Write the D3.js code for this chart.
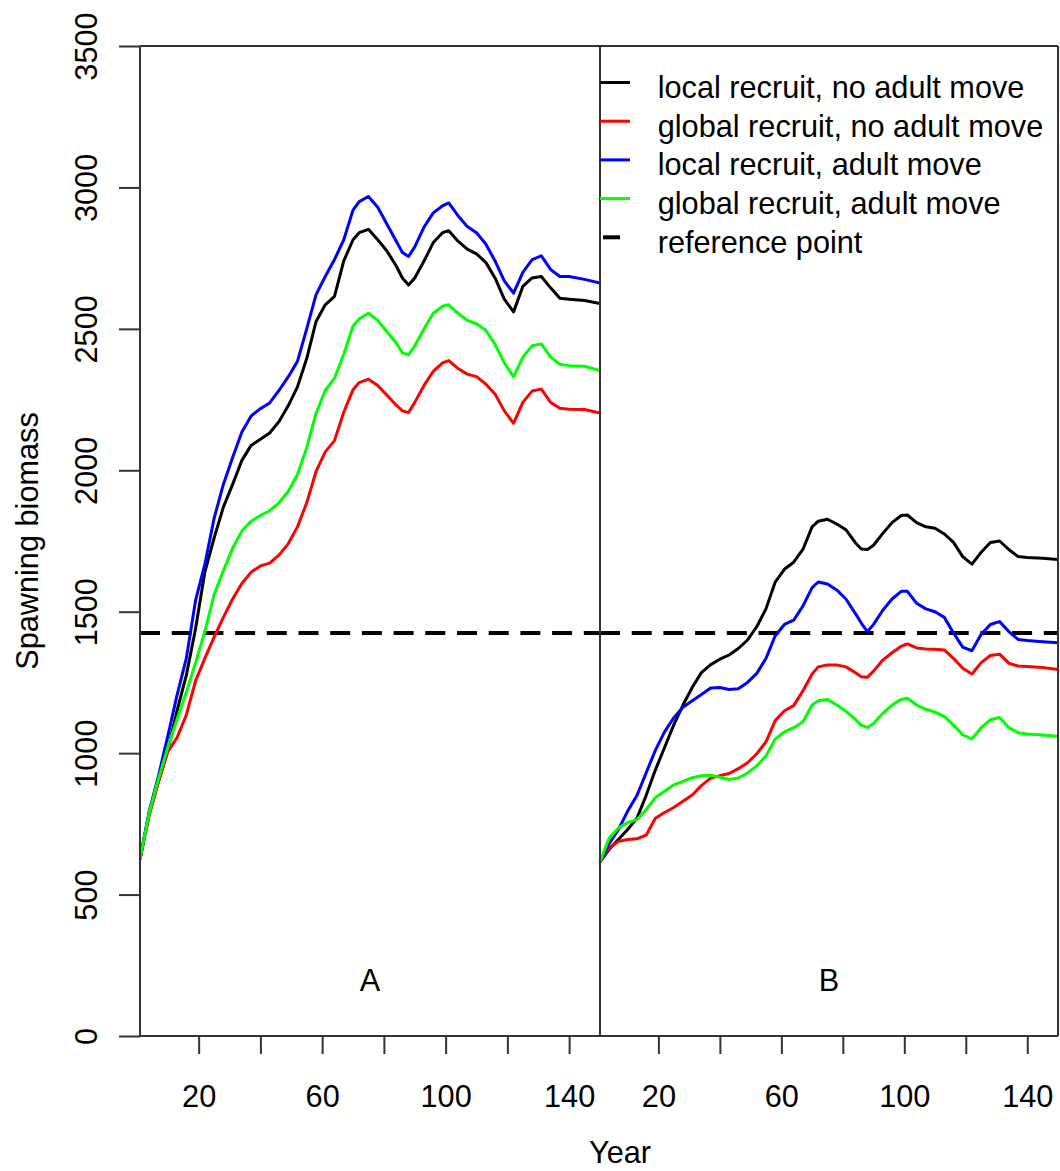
<!DOCTYPE html>
<html>
<head>
<meta charset="utf-8">
<script src="https://cdn.jsdelivr.net/npm/d3@7"></script>
<style>
  body { margin: 0; background: #fff; }
  text { font-family: "Liberation Sans", Arial, sans-serif; fill: #000; }
</style>
</head>
<body>
<svg class="svg" width="1060" height="1171"></svg>
<script>
// years (same grid for every series)
const years = [1, 4, 7, 10, 13, 16, 19, 22, 25, 28,
  31, 34, 37, 40, 43, 46, 49, 52, 55, 58,
  61, 64, 67, 70, 72, 75, 78, 81, 84, 86,
  88, 90, 93, 96, 99, 101, 104, 107, 110, 113,
  116, 119, 122, 125, 128, 131, 134, 137, 140, 145,
  150];

// panel A
const aLocalNoMove = [625, 790, 900, 1010, 1150, 1275, 1440, 1640, 1760, 1870,
  1950, 2035, 2088, 2110, 2132, 2172, 2228, 2295, 2395, 2525,
  2585, 2615, 2740, 2815, 2840, 2852, 2815, 2775, 2722, 2680,
  2655, 2680, 2740, 2805, 2840, 2847, 2810, 2782, 2765, 2735,
  2680, 2605, 2560, 2650, 2680, 2685, 2645, 2608, 2605, 2600,
  2590];
const aGlobalNoMove = [625, 780, 900, 1005, 1055, 1135, 1255, 1335, 1410, 1480,
  1545, 1600, 1640, 1662, 1672, 1700, 1740, 1800, 1885, 1995,
  2065, 2105, 2205, 2285, 2310, 2322, 2300, 2265, 2230, 2210,
  2204, 2240, 2300, 2350, 2380, 2388, 2360, 2340, 2331, 2305,
  2270, 2210, 2166, 2240, 2280, 2287, 2240, 2219, 2216, 2215,
  2202];
const aLocalMove = [625, 795, 920, 1060, 1205, 1335, 1540, 1667, 1830, 1950,
  2045, 2135, 2192, 2218, 2238, 2282, 2330, 2385, 2500, 2620,
  2685, 2745, 2815, 2920, 2950, 2968, 2930, 2870, 2810, 2770,
  2756, 2790, 2860, 2910, 2935, 2945, 2900, 2862, 2840, 2800,
  2740, 2670, 2626, 2700, 2745, 2758, 2710, 2685, 2685, 2675,
  2662];
const aGlobalMove = [625, 790, 910, 1020, 1120, 1215, 1320, 1430, 1560, 1645,
  1725, 1785, 1820, 1840, 1857, 1885, 1925, 1985, 2080, 2200,
  2283, 2325, 2410, 2510, 2535, 2555, 2530, 2490, 2450, 2415,
  2408, 2440, 2500, 2555, 2580, 2585, 2555, 2530, 2518, 2495,
  2445, 2380, 2330, 2400, 2440, 2447, 2400, 2375, 2370, 2368,
  2353];

// panel B
const bLocalNoMove = [616, 660, 695, 730, 770, 850, 940, 1020, 1100, 1170,
  1232, 1285, 1313, 1332, 1347, 1370, 1400, 1447, 1510, 1605,
  1650, 1675, 1720, 1800, 1820, 1827, 1810, 1790, 1745, 1722,
  1720, 1735, 1777, 1815, 1840, 1842, 1815, 1800, 1795, 1775,
  1745, 1695, 1668, 1710, 1745, 1750, 1720, 1695, 1692, 1689,
  1685];
const bGlobalNoMove = [616, 665, 688, 695, 697, 710, 770, 790, 808, 830,
  852, 885, 912, 920, 928, 945, 966, 998, 1040, 1115,
  1150, 1168, 1220, 1280, 1305, 1312, 1312, 1305, 1285, 1270,
  1268, 1290, 1329, 1355, 1378, 1386, 1372, 1368, 1367, 1365,
  1335, 1300, 1280, 1320, 1345, 1350, 1318, 1308, 1306, 1303,
  1296];
const bLocalMove = [616, 680, 730, 795, 850, 930, 1010, 1075, 1125, 1162,
  1185, 1207, 1230, 1232, 1225, 1228, 1250, 1282, 1335, 1415,
  1455, 1470, 1520, 1585, 1605, 1598, 1577, 1545, 1495, 1460,
  1430, 1455, 1505, 1545, 1572, 1572, 1530, 1510, 1500, 1480,
  1425, 1375, 1362, 1420, 1455, 1465, 1430, 1402, 1398, 1394,
  1390];
const bGlobalMove = [616, 700, 735, 755, 765, 800, 843, 865, 888, 900,
  913, 920, 922, 915, 907, 912, 930, 955, 990, 1050,
  1075, 1090, 1110, 1170, 1185, 1190, 1170, 1148, 1120, 1098,
  1091, 1105, 1141, 1170, 1190, 1194, 1170, 1155, 1145, 1130,
  1099, 1065, 1050, 1090, 1118, 1126, 1090, 1072, 1068, 1064,
  1060];

const refPoint = 1425;
const yTicks = [0, 500, 1000, 1500, 2000, 2500, 3000, 3500];
const xTicks = [20, 40, 60, 80, 100, 120, 140];
const xLabels = [20, 60, 100, 140];
const legendNames = ['local recruit, no adult move', 'global recruit, no adult move',
  'local recruit, adult move', 'global recruit, adult move', 'reference point'];
const colors = ['#000000', '#ff0000', '#0000ff', '#00ff00'];

const plotTop = 46;
const plotBottom = 1036;
const fontSize = 30.7;
const svg = d3.select('.svg');
const y = d3.scaleLinear().domain([0, 3500]).range([plotBottom, plotTop]);

function drawPanel(id, left, right, series, letter) {
  const x = d3.scaleLinear().domain([1, 150]).range([left, right]);

  svg.append('clipPath').attr('id', 'clip' + id)
    .append('rect')
    .attr('x', left).attr('y', plotTop)
    .attr('width', right - left).attr('height', plotBottom - plotTop);

  const g = svg.append('g').attr('clip-path', 'url(#clip' + id + ')');

  // reference point
  g.append('line')
    .attr('x1', left).attr('x2', right)
    .attr('y1', y(refPoint)).attr('y2', y(refPoint))
    .attr('stroke', '#000')
    .attr('stroke-width', 4)
    .attr('stroke-dasharray', '20 11.7');

  const line = d3.line()
    .x((d, i) => x(years[i]))
    .y(d => y(d));

  series.forEach((s, i) => {
    g.append('path')
      .attr('d', line(s))
      .attr('fill', 'none')
      .attr('stroke', colors[i])
      .attr('stroke-width', 3)
      .attr('stroke-linejoin', 'round');
  });

  // x axis
  const ax = svg.append('g')
    .attr('transform', 'translate(0,' + plotBottom + ')')
    .call(d3.axisBottom(x)
      .tickValues(xTicks)
      .tickSize(18)
      .tickSizeOuter(0)
      .tickPadding(31)
      .tickFormat(d => (xLabels.includes(d) ? d : '')));
  ax.select('.domain').remove();
  ax.selectAll('line').attr('stroke', '#333').attr('stroke-width', 2);
  ax.selectAll('text').attr('font-size', fontSize).attr('font-family', '"Liberation Sans", Arial, sans-serif').attr('fill', '#000');

  svg.append('text')
    .attr('x', x(75.5))
    .attr('y', 991)
    .attr('text-anchor', 'middle')
    .attr('font-size', fontSize)
    .text(letter);

  return x;
}

drawPanel('A', 140, 600, [aLocalNoMove, aGlobalNoMove, aLocalMove, aGlobalMove], 'A');
drawPanel('B', 600, 1058, [bLocalNoMove, bGlobalNoMove, bLocalMove, bGlobalMove], 'B');

// frame
const frame = [[140, plotTop, 140, plotBottom], [600, plotTop, 600, plotBottom], [1058, plotTop, 1058, plotBottom],
  [140, plotTop, 1058, plotTop], [140, plotBottom, 1058, plotBottom]];
frame.forEach(f => {
  svg.append('line')
    .attr('x1', f[0]).attr('y1', f[1]).attr('x2', f[2]).attr('y2', f[3])
    .attr('stroke', '#333').attr('stroke-width', 2);
});

// y axis
const ay = svg.append('g')
  .attr('transform', 'translate(140,0)')
  .call(d3.axisLeft(y).tickValues(yTicks).tickSize(21).tickSizeOuter(0).tickFormat(d3.format('d')));
ay.select('.domain').remove();
ay.selectAll('line').attr('stroke', '#333').attr('stroke-width', 2);
ay.selectAll('text')
  .attr('x', 0).attr('y', -43).attr('dy', 0)
  .attr('transform', 'rotate(-90)')
  .attr('text-anchor', 'middle')
  .attr('font-size', fontSize)
  .attr('font-family', '"Liberation Sans", Arial, sans-serif')
  .attr('fill', '#000');

// titles
svg.append('text')
  .attr('transform', 'translate(38,541) rotate(-90)')
  .attr('text-anchor', 'middle')
  .attr('font-size', fontSize)
  .text('Spawning biomass');

svg.append('text')
  .attr('x', 620)
  .attr('y', 1163)
  .attr('text-anchor', 'middle')
  .attr('font-size', fontSize)
  .text('Year');

// legend
const legend = svg.append('g');
legendNames.forEach((name, i) => {
  const ly = 82.5 + i * 38.7;
  const item = legend.append('line')
    .attr('y1', ly).attr('y2', ly)
    .attr('stroke', i < 4 ? colors[i] : '#000')
    .attr('stroke-width', i < 4 ? 3 : 4);
  if (i < 4) {
    item.attr('x1', 600).attr('x2', 630);
  } else {
    item.attr('x1', 603).attr('x2', 620);
  }
  legend.append('text')
    .attr('x', 657.7)
    .attr('y', ly + 15.5)
    .attr('font-size', fontSize)
    .text(name);
});
</script>
</body>
</html>
